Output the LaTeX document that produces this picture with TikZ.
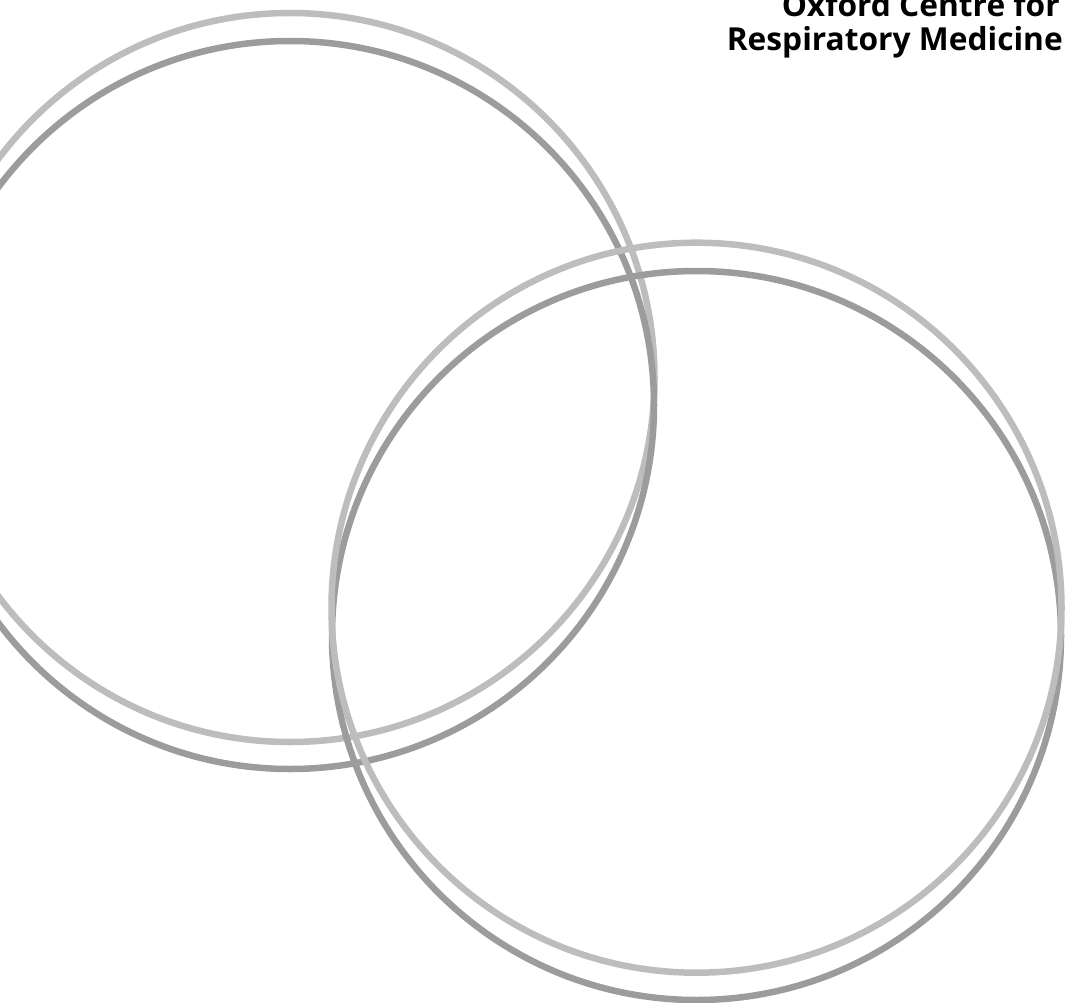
\documentclass[tikz,border=0pt]{standalone}
\usepackage{fontspec}
\setmainfont{Open Sans}
\definecolor{ringlight}{HTML}{BDBDBD}
\definecolor{ringdark}{HTML}{9C9C9C}
\begin{document}
\begin{tikzpicture}[x=1pt,y=-1pt,
  ring/.style={line width=6.5pt},
  title/.style={inner sep=0pt, anchor=base east, font=\fontsize{31.7}{34}\selectfont\bfseries}]
\useasboundingbox (0,0) rectangle (1068,1003);
\clip (0,0) rectangle (1068,1003);
% left pair
\draw[ring, ringlight] (290,377.5) circle[radius=364.5];
\draw[ring, ringdark] (290,405) circle[radius=364];
% right pair
\draw[ring, ringdark] (696.5,635.5) circle[radius=364.5];
\draw[ring, ringlight] (696.5,607.7) circle[radius=365];
% title
\node[title] (t1) at (1060,17) {Oxford Centre for};
\node[title] (t2) at (1063,51) {Respiratory Medicine};
\end{tikzpicture}
\end{document}
